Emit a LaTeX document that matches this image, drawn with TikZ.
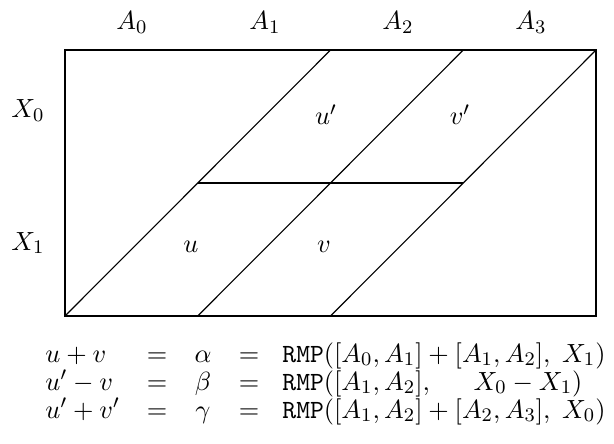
\documentclass[tikz,border=0pt]{standalone}
\begin{document}
\begin{tikzpicture}[x=0.41667pt,y=-0.41667pt,
  lbl/.style={inner sep=0pt, font=\fontsize{10.95}{13.6}\selectfont},
  frame/.style={line width=1pt, line join=miter},
  diag/.style={line width=0.46pt},
  bar/.style={line width=1.2pt}]
\useasboundingbox (0,0) rectangle (614,444);
\coordinate (NW) at (65,50);
\coordinate (SE) at (596,316);
\coordinate (T1) at (330.5,50);
\coordinate (T2) at (463.25,50);
\coordinate (T3) at (596,50);
\coordinate (B0) at (65,316);
\coordinate (B1) at (197.75,316);
\coordinate (B2) at (330.5,316);
\coordinate (M1) at (197.75,183);
\coordinate (M2) at (463.25,183);
\draw[diag] (B0) -- (T1);
\draw[diag] (B1) -- (T2);
\draw[diag] (B2) -- (T3);
\draw[bar] (M1) -- (M2);
\draw[frame] (NW) rectangle (SE);
% column labels
\node[lbl, anchor=base] (a0) at (132,30) {$A_0$};
\node[lbl, anchor=base] (a1) at (265,30) {$A_1$};
\node[lbl, anchor=base] (a2) at (398,30) {$A_2$};
\node[lbl, anchor=base] (a3) at (531,30) {$A_3$};
% row labels
\node[lbl, anchor=base] (x0) at (28,118) {$X_0$};
\node[lbl, anchor=base] (x1) at (28,250) {$X_1$};
% region labels
\node[lbl, anchor=base] (up) at (326,125) {$u'$};
\node[lbl, anchor=base] (vp) at (460,125) {$v'$};
\node[lbl, anchor=base] (u) at (191,252) {$u$};
\node[lbl, anchor=base] (v) at (324,252) {$v$};
% equations
\node[lbl, anchor=base west] (l1) at (45,362) {$u+v$};
\node[lbl, anchor=base west] (l2) at (45,390) {$u'-v$};
\node[lbl, anchor=base west] (l3) at (45,418) {$u'+v'$};
\node[lbl, anchor=base] (e11) at (157,362) {$=$};
\node[lbl, anchor=base] (e21) at (157,390) {$=$};
\node[lbl, anchor=base] (e31) at (157,418) {$=$};
\node[lbl, anchor=base] (g1) at (203,362) {$\alpha$};
\node[lbl, anchor=base] (g2) at (203,390) {$\beta$};
\node[lbl, anchor=base] (g3) at (203,418) {$\gamma$};
\node[lbl, anchor=base] (e12) at (249,362) {$=$};
\node[lbl, anchor=base] (e22) at (249,390) {$=$};
\node[lbl, anchor=base] (e32) at (249,418) {$=$};
\node[lbl, anchor=base west] (r1) at (282,362) {\texttt{RMP}$([A_0,A_1]+[A_1,A_2],\;X_1)$};
\node[lbl, anchor=base west] (r2) at (282,390) {\texttt{RMP}$([A_1,A_2],\hspace{1.5em}X_0-X_1)$};
\node[lbl, anchor=base west] (r3) at (282,418) {\texttt{RMP}$([A_1,A_2]+[A_2,A_3],\;X_0)$};
\end{tikzpicture}
\end{document}
